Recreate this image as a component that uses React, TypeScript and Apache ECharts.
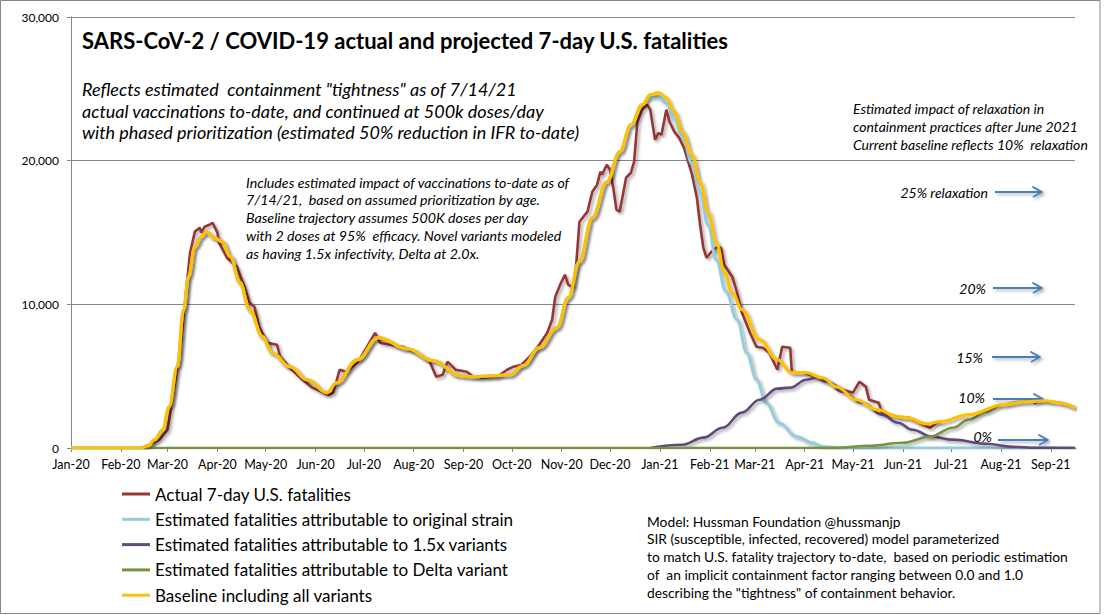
import React, { useEffect, useRef } from 'react';
import * as echarts from 'echarts';

const FONT = 'Lato, "Noto Sans", sans-serif';

// ---------- categories (one per day) ----------
const FIRST_DAY = Date.UTC(2020, 0, 1);
const DAY_COUNT = 625; // 2020-01-01 .. 2021-09-16
const dayCategories: string[] = Array.from({ length: DAY_COUNT }, (_, i) =>
  new Date(FIRST_DAY + i * 86400000).toISOString().slice(0, 10)
);
const MONTH_NAMES = ['Jan', 'Feb', 'Mar', 'Apr', 'May', 'Jun', 'Jul', 'Aug', 'Sep', 'Oct', 'Nov', 'Dec'];
const yTicks = { min: 0, max: 30000, interval: 10000 };

// ---------- Actual 7-day U.S. fatalities ----------
const actualDates = [
  '2020-02-15', '2020-02-25', '2020-03-01', '2020-03-04', '2020-03-09', '2020-03-12', '2020-03-15', '2020-03-18',
  '2020-03-21', '2020-03-22', '2020-03-24', '2020-03-27', '2020-03-29', '2020-04-01', '2020-04-02', '2020-04-07',
  '2020-04-13', '2020-04-17', '2020-04-21', '2020-04-24', '2020-04-27', '2020-05-02', '2020-05-08', '2020-05-10',
  '2020-05-16', '2020-05-24', '2020-05-30', '2020-06-09', '2020-06-12', '2020-06-16', '2020-06-20', '2020-06-27',
  '2020-07-03', '2020-07-08', '2020-07-11', '2020-07-17', '2020-07-25', '2020-08-03', '2020-08-11', '2020-08-15',
  '2020-08-19', '2020-08-22', '2020-08-27', '2020-09-03', '2020-09-07', '2020-09-13', '2020-09-22', '2020-09-28',
  '2020-10-02', '2020-10-07', '2020-10-12', '2020-10-18', '2020-10-23', '2020-10-26', '2020-10-28', '2020-10-31',
  '2020-11-03', '2020-11-05', '2020-11-08', '2020-11-10', '2020-11-12', '2020-11-17', '2020-11-20', '2020-11-23',
  '2020-11-25', '2020-11-26', '2020-11-29', '2020-12-01', '2020-12-03', '2020-12-05', '2020-12-07', '2020-12-09',
  '2020-12-11', '2020-12-14', '2020-12-16', '2020-12-18', '2020-12-21', '2020-12-24', '2020-12-26', '2020-12-29',
  '2020-12-31', '2021-01-02', '2021-01-05', '2021-01-07', '2021-01-10', '2021-01-13', '2021-01-16', '2021-01-21',
  '2021-01-24', '2021-01-26', '2021-01-28', '2021-01-30', '2021-02-02', '2021-02-05', '2021-02-08', '2021-02-10',
  '2021-02-15', '2021-02-18', '2021-02-21', '2021-02-26', '2021-03-02', '2021-03-06', '2021-03-10', '2021-03-15',
  '2021-03-18', '2021-03-23', '2021-03-24', '2021-03-31', '2021-04-08', '2021-04-16', '2021-04-25', '2021-05-01',
  '2021-05-05', '2021-05-09', '2021-05-11', '2021-05-17', '2021-05-19', '2021-05-29', '2021-06-05', '2021-06-11',
  '2021-06-18', '2021-06-22', '2021-06-25',
];
const actualValues = [
  0, 580, 1270, 3360, 6850, 10320, 13590, 15060,
  15330, 14990, 15400, 15540, 15680, 14990, 14290, 13240,
  12620, 11510, 10120, 9830, 8440, 7330, 7190, 6350,
  5590, 4750, 4200, 3710, 3850, 5450, 5310, 5940,
  7050, 8020, 7330, 7190, 7050, 6630, 6010, 4960,
  5100, 6010, 5450, 5310, 4960, 4890, 4960, 5450,
  5660, 5800, 6350, 7190, 8020, 8930, 10530, 11370,
  12060, 11370, 11160, 12760, 15750, 16450, 17840, 18330,
  19230, 19020, 19720, 19370, 18120, 16590, 16450, 17630,
  18810, 19160, 19930, 22710, 23550, 23900, 23550, 21450,
  21930, 21800, 23550, 22710, 22010, 21590, 20900, 19020,
  17420, 15540, 13940, 13240, 13660, 13940, 13940, 12760,
  11920, 10810, 9420, 8020, 7050, 6980, 6630, 5450,
  7050, 6980, 5310, 5240, 4960, 4610, 4060, 3850,
  4610, 4270, 3360, 3150, 2460, 2180, 2110, 1760,
  1410, 1760, 1830,
];

// ---------- Estimated fatalities attributable to original strain ----------
const originalDates = [
  '2020-01-01', '2020-02-13', '2020-02-18', '2020-02-22', '2020-02-27', '2020-03-02', '2020-03-07', '2020-03-11',
  '2020-03-14', '2020-03-18', '2020-03-22', '2020-03-25', '2020-03-30', '2020-04-04', '2020-04-09', '2020-04-15',
  '2020-04-21', '2020-04-29', '2020-05-05', '2020-05-16', '2020-05-27', '2020-06-08', '2020-06-14', '2020-06-27',
  '2020-07-10', '2020-07-28', '2020-08-13', '2020-08-30', '2020-09-07', '2020-09-19', '2020-09-30', '2020-10-08',
  '2020-10-18', '2020-10-29', '2020-11-05', '2020-11-12', '2020-11-20', '2020-11-29', '2020-12-07', '2020-12-14',
  '2020-12-21', '2020-12-26', '2020-12-31', '2021-01-05', '2021-01-10', '2021-01-15', '2021-01-21', '2021-01-26',
  '2021-01-31', '2021-02-05', '2021-02-11', '2021-02-18', '2021-02-24', '2021-03-02', '2021-03-08', '2021-03-16',
  '2021-03-27', '2021-04-06', '2021-04-12', '2021-04-25', '2021-09-16',
];
const originalValues = [
  0, 0, 160, 580, 1270, 2870, 5660, 9620,
  11920, 14010, 14710, 15060, 14640, 14360, 13320, 11510,
  9630, 7750, 6630, 5660, 4750, 3850, 4540, 6150,
  7680, 6910, 6080, 5030, 4960, 5030, 5100, 5730,
  6980, 8370, 10460, 12970, 16030, 18530, 20620, 22500,
  23900, 24450, 24450, 24000, 22900, 21700, 19800, 17800,
  15500, 13100, 10900, 8930, 6630, 4760, 3150, 1760,
  790, 370, 90, 0, 0,
];

// ---------- Estimated fatalities attributable to 1.5x variants ----------
const variantDates = [
  '2020-12-26', '2021-01-15', '2021-01-28', '2021-02-09', '2021-02-21', '2021-03-04', '2021-03-15', '2021-03-23',
  '2021-04-02', '2021-04-08', '2021-04-15', '2021-04-24', '2021-05-07', '2021-05-19', '2021-05-29', '2021-06-07',
  '2021-06-19', '2021-07-02', '2021-07-23', '2021-08-08', '2021-08-23', '2021-09-16',
];
const variantValues = [
  0, 230, 720, 1410, 2460, 3360, 4130, 4200,
  4750, 4890, 4610, 3920, 3150, 2320, 1760, 1270,
  790, 580, 300, 90, 20, 0,
];

// ---------- Estimated fatalities attributable to Delta variant ----------
const deltaDates = [
  '2020-01-01', '2021-04-08', '2021-04-21', '2021-05-11', '2021-06-01', '2021-06-18', '2021-07-02', '2021-07-12',
  '2021-07-23', '2021-08-02', '2021-08-12', '2021-08-25', '2021-09-02', '2021-09-16',
];
const deltaValues = [
  0, 0, 20, 160, 370, 790, 1410, 1970,
  2530, 3010, 3220, 3290, 3220, 2810,
];

// ---------- Baseline including all variants ----------
const baselineDates = [
  '2020-01-01', '2020-02-13', '2020-02-18', '2020-02-22', '2020-02-27', '2020-03-02', '2020-03-07', '2020-03-11',
  '2020-03-14', '2020-03-18', '2020-03-22', '2020-03-25', '2020-03-30', '2020-04-04', '2020-04-09', '2020-04-15',
  '2020-04-21', '2020-04-29', '2020-05-05', '2020-05-16', '2020-05-27', '2020-06-08', '2020-06-14', '2020-06-27',
  '2020-07-10', '2020-07-28', '2020-08-13', '2020-08-30', '2020-09-07', '2020-09-19', '2020-09-30', '2020-10-08',
  '2020-10-18', '2020-10-29', '2020-11-05', '2020-11-12', '2020-11-20', '2020-11-29', '2020-12-07', '2020-12-14',
  '2020-12-21', '2020-12-26', '2020-12-31', '2021-01-05', '2021-01-10', '2021-01-15', '2021-01-21', '2021-01-26',
  '2021-01-31', '2021-02-05', '2021-02-10', '2021-02-15', '2021-02-21', '2021-03-04', '2021-03-15', '2021-03-24',
  '2021-04-02', '2021-04-12', '2021-04-21', '2021-05-03', '2021-05-16', '2021-05-29', '2021-06-03', '2021-06-16',
  '2021-06-24', '2021-07-12', '2021-08-02', '2021-08-17', '2021-08-29', '2021-09-06', '2021-09-16',
];
const baselineValues = [
  0, 0, 160, 580, 1270, 2870, 5660, 9620,
  11920, 14010, 14710, 15060, 14640, 14360, 13320, 11510,
  9630, 7750, 6630, 5660, 4750, 3850, 4540, 6150,
  7680, 6910, 6080, 5030, 4960, 5030, 5100, 5730,
  6980, 8370, 10460, 12970, 16030, 18530, 20620, 22500,
  23900, 24590, 24730, 24380, 23400, 22010, 20410, 18530,
  16440, 14350, 12260, 10810, 9630, 7540, 6150, 5240,
  5240, 4890, 4260, 3360, 2670, 2180, 2110, 1690,
  1830, 2320, 3010, 3220, 3290, 3150, 2810,
];

const seriesNames = [
  'Actual 7-day U.S. fatalities',
  'Estimated fatalities attributable to original strain',
  'Estimated fatalities attributable to 1.5x variants',
  'Estimated fatalities attributable to Delta variant',
  'Baseline including all variants',
];
const seriesColors = ['#953735', '#93CDDD', '#604A7B', '#77933C', '#FFC000'];

// ---------- annotation texts ----------
const titleText = 'SARS-CoV-2 / COVID-19 actual and projected 7-day U.S. fatalities';
const subtitleLines = [
  'Reflects estimated  containment "tightness" as of 7/14/21',
  'actual vaccinations to-date, and continued at 500k doses/day',
  'with phased prioritization (estimated 50% reduction in IFR to-date)',
];
const vaccineNoteLines = [
  'Includes estimated impact of vaccinations to-date as of',
  '7/14/21,  based on assumed prioritization by age.',
  'Baseline trajectory assumes 500K doses per day',
  'with 2 doses at 95%  efficacy. Novel variants modeled',
  'as having 1.5x infectivity, Delta at 2.0x.',
];
const relaxNoteLines = [
  'Estimated impact of relaxation in',
  'containment practices after June 2021',
  'Current baseline reflects 10%  relaxation',
];
const scenarioLabels = ['25% relaxation', '20%', '15%', '10%', '0%'];
const modelNoteLines = [
  'Model: Hussman Foundation @hussmanjp',
  'SIR (susceptible, infected, recovered) model parameterized',
  'to match U.S. fatality trajectory to-date,  based on periodic estimation',
  'of  an implicit containment factor ranging between 0.0 and 1.0',
  'describing the "tightness" of containment behavior.',
];

const pairs = (dates: string[], values: number[]) => dates.map((d, i) => [d, values[i]]);

export default function App() {
  const ref = useRef<HTMLDivElement>(null);

  useEffect(() => {
    if (!ref.current) return;
    const chart = echarts.init(ref.current, undefined, { renderer: 'svg' });

    const shadow = { shadowColor: 'rgba(0,0,0,0.35)', shadowBlur: 3, shadowOffsetX: 2, shadowOffsetY: 2 };
    const mkLine = (idx: number, data: any[], width: number, smooth: boolean) => ({
      type: 'line',
      name: seriesNames[idx],
      data,
      symbol: 'none',
      showSymbol: false,
      smooth: smooth ? 0.4 : false,
      smoothMonotone: 'x',
      silent: true,
      lineStyle: { color: seriesColors[idx], width, ...shadow },
      itemStyle: { color: seriesColors[idx] },
      emphasis: { disabled: true },
    });

    const arrowColor = '#4A7EBB';
    const arrowSpec = [
      { x1: 995, x2: 1042, y: 192 },
      { x1: 993, x2: 1042, y: 288 },
      { x1: 992, x2: 1040, y: 357 },
      { x1: 993, x2: 1043, y: 399 },
      { x1: 998, x2: 1048, y: 440 },
    ];
    const labelSpec = [
      { x: 988, y: 192 },
      { x: 986, y: 288 },
      { x: 983, y: 357 },
      { x: 985, y: 397 },
      { x: 992, y: 436 },
    ];

    const textEl = (text: string, x: number, y: number, size: number, opts: any = {}) => ({
      type: 'text',
      silent: true,
      style: {
        text,
        x,
        y,
        fill: '#000',
        fontFamily: FONT,
        fontSize: size,
        textVerticalAlign: 'middle',
        textAlign: 'left',
        ...opts,
      },
    });

    const graphics: any[] = [
      {
        type: 'rect',
        silent: true,
        shape: { x: 0.5, y: 0.5, width: 1099.5, height: 613 },
        style: { fill: 'none', stroke: '#868686', lineWidth: 1 },
      },
      textEl(titleText, 82, 40, 22, { fontWeight: 'bold' }),
      ...subtitleLines.map((t, i) => textEl(t, 82, 89 + i * 21.7, 18, { fontStyle: 'italic' })),
      ...vaccineNoteLines.map((t, i) => textEl(t, 246, 182 + i * 17.9, 14.2, { fontStyle: 'italic' })),
      ...relaxNoteLines.map((t, i) => textEl(t, 853, 108 + i * 18, 14, { fontStyle: 'italic' })),
      ...scenarioLabels.map((t, i) =>
        textEl(t, labelSpec[i].x, labelSpec[i].y, 14, { fontStyle: 'italic', textAlign: 'right' })
      ),
      ...modelNoteLines.map((t, i) => textEl(t, 647, 521 + i * 17.8, 13.8)),
      ...arrowSpec.map((a) => ({
        type: 'polyline',
        silent: true,
        shape: {
          points: [[a.x1, a.y], [a.x2, a.y], [a.x2 - 9, a.y - 5], [a.x2, a.y], [a.x2 - 9, a.y + 5]],
        },
        style: {
          stroke: arrowColor,
          lineWidth: 1.8,
          fill: 'none',
          lineJoin: 'round',
          shadowColor: 'rgba(0,0,0,0.3)',
          shadowBlur: 3,
          shadowOffsetX: 2,
          shadowOffsetY: 2,
        },
      })),
    ];

    chart.setOption({
      animation: false,
      backgroundColor: '#ffffff',
      textStyle: { fontFamily: FONT },
      grid: { left: 71, right: 29, top: 17, bottom: 167 },
      legend: {
        orient: 'vertical',
        left: 122,
        top: 484,
        padding: 0,
        icon: 'rect',
        itemWidth: 28,
        itemHeight: 3,
        itemGap: 5.3,
        selectedMode: false,
        data: seriesNames,
        textStyle: { fontFamily: FONT, fontSize: 17, color: '#000', lineHeight: 20 },
      },
      xAxis: {
        type: 'category',
        data: dayCategories,
        boundaryGap: false,
        axisLine: { lineStyle: { color: '#868686', width: 1 } },
        axisTick: {
          show: true,
          length: 4,
          interval: (_i: number, v: string) => v.slice(8) === '01',
          lineStyle: { color: '#868686' },
        },
        axisLabel: {
          interval: (_i: number, v: string) => v.slice(8) === '01',
          formatter: (v: string) => MONTH_NAMES[Number(v.slice(5, 7)) - 1] + '-' + v.slice(2, 4),
          fontFamily: FONT,
          fontSize: 12.5,
          color: '#000',
          margin: 10,
        },
        splitLine: { show: false },
      },
      yAxis: {
        type: 'value',
        min: yTicks.min,
        max: yTicks.max,
        interval: yTicks.interval,
        axisLine: { show: true, lineStyle: { color: '#868686', width: 1 } },
        axisTick: { show: true, length: 4, lineStyle: { color: '#868686' } },
        axisLabel: {
          formatter: (v: number) => v.toLocaleString('en-US'),
          fontFamily: FONT,
          fontSize: 12,
          color: '#000',
          margin: 12,
        },
        splitLine: { show: true, lineStyle: { color: '#868686', width: 1 } },
      },
      series: [
        mkLine(0, pairs(actualDates, actualValues), 2.6, false),
        mkLine(1, pairs(originalDates, originalValues), 3, true),
        mkLine(2, pairs(variantDates, variantValues), 2.6, true),
        mkLine(3, pairs(deltaDates, deltaValues), 2.6, true),
        mkLine(4, pairs(baselineDates, baselineValues), 3.2, true),
      ],
      graphic: { elements: graphics },
    });

    return () => chart.dispose();
  }, []);

  return (
    <div
      ref={ref}
      style={{ position: 'absolute', left: 0, top: 0, width: 1104, height: 615, background: '#fff' }}
    />
  );
}
